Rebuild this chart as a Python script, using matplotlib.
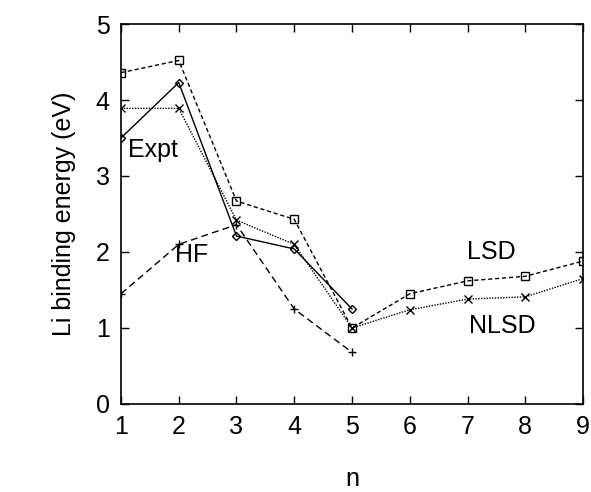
import matplotlib
matplotlib.use('Agg')
from matplotlib import pyplot as plt

plt.rcParams['font.family'] = ['Liberation Sans', 'DejaVu Sans']

n = [1, 2, 3, 4, 5, 6, 7, 8, 9]
lsd = [4.36, 4.52, 2.67, 2.43, 1.00, 1.45, 1.62, 1.68, 1.88]
nlsd = [3.89, 3.89, 2.42, 2.10, 1.00, 1.24, 1.38, 1.41, 1.65]

n_short = [1, 2, 3, 4, 5]
expt = [3.50, 4.23, 2.21, 2.04, 1.25]
hf = [1.45, 2.10, 2.36, 1.25, 0.68]

fig = plt.figure(figsize=(5.91, 4.92), dpi=100)
ax = fig.add_axes([0.2047, 0.1789, 0.7818, 0.7723])

ax.plot(n, lsd, color='k', linestyle=(0, (3, 2)), linewidth=1.0,
        marker='s', markersize=5.5, markerfacecolor='none', markeredgewidth=1.0)
ax.plot(n, nlsd, color='k', linestyle=(0, (1, 1)), linewidth=1.0,
        marker='x', markersize=6, markeredgewidth=1.0)
ax.plot(n_short, expt, color='k', linestyle='-', linewidth=1.0,
        marker='D', markersize=4.5, markerfacecolor='none', markeredgewidth=1.0)
ax.plot(n_short, hf, color='k', linestyle=(0, (5, 3)), linewidth=1.0,
        marker='+', markersize=6, markeredgewidth=1.0)

ax.text(1.56, 3.34, 'Expt', fontsize=18, ha='center', va='center')
ax.text(2.22, 1.96, 'HF', fontsize=18, ha='center', va='center')
ax.text(7.42, 2.0, 'LSD', fontsize=18, ha='center', va='center')
ax.text(7.61, 1.02, 'NLSD', fontsize=18, ha='center', va='center')

ax.set_xlim(1, 9)
ax.set_ylim(0, 5)
ax.set_xticks(n)
ax.set_yticks([0, 1, 2, 3, 4, 5])
ax.tick_params(direction='in', top=True, right=True, length=6, width=1,
               labelsize=18, pad=8)
for s in ax.spines.values():
    s.set_linewidth(1.2)

ax.set_xlabel('n', fontsize=18, labelpad=20)
ax.set_ylabel('Li binding energy (eV)', fontsize=18, labelpad=14)

fig.savefig('out.png', dpi=100)
